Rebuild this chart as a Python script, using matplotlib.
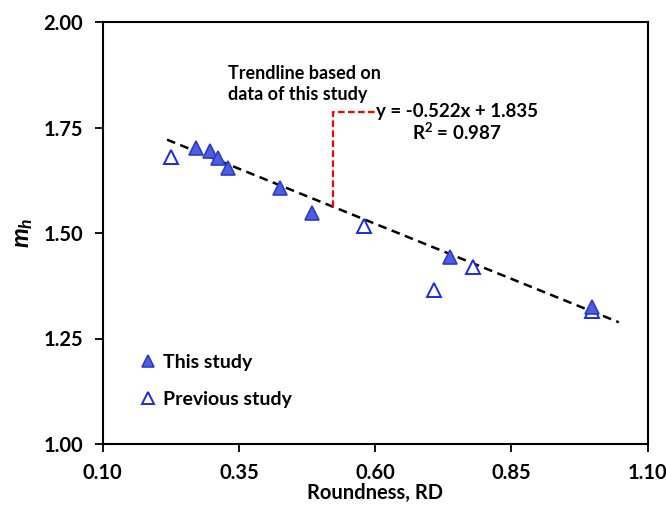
import matplotlib
matplotlib.use('Agg')
import matplotlib.pyplot as plt
import numpy as np

plt.rcParams['font.family'] = ['Lato', 'DejaVu Sans']
plt.rcParams['font.weight'] = 'bold'
plt.rcParams['axes.labelweight'] = 'bold'
plt.rcParams['mathtext.fontset'] = 'custom'
plt.rcParams['mathtext.it'] = 'Lato:bold:italic'
plt.rcParams['mathtext.rm'] = 'Lato:bold'

# roundness vs m_h
rd_this = [0.271, 0.297, 0.312, 0.329, 0.425, 0.484, 0.738, 0.998]
mh_this = [1.702, 1.695, 1.677, 1.655, 1.607, 1.548, 1.442, 1.324]
rd_prev = [0.225, 0.579, 0.708, 0.779, 0.998]
mh_prev = [1.679, 1.517, 1.365, 1.420, 1.314]

slope, intercept = -0.522, 1.835
r2 = 0.987
fit_x = np.array([0.218, 1.047])

xticks = [0.10, 0.35, 0.60, 0.85, 1.10]
yticks = [1.00, 1.25, 1.50, 1.75, 2.00]

fig = plt.figure(figsize=(6.66, 5.08), dpi=100)
ax = fig.add_axes([102.7 / 666, 1 - 444 / 508, 545 / 666, 422 / 508])

ax.plot(fit_x, slope * fit_x + intercept, color='black', ls=(0, (3.5, 2.2)),
        lw=1.8, zorder=1)
ax.plot(rd_this, mh_this, ls='none', marker='^', ms=10, mfc='#4f5fdc',
        mec='#2b3bd0', mew=1.2, label='This study', zorder=3)
ax.plot(rd_prev, mh_prev, ls='none', marker='^', ms=10, mfc='white',
        mec='#1a2be6', mew=1.4, label='Previous study', zorder=2)

# red leader from the trendline to the equation
xa = 0.523
ya = slope * xa + intercept
ax.plot([xa, xa, 0.601], [ya, 1.787, 1.787], color='red', ls=(0, (3, 1.5)),
        lw=1.6, zorder=2)
ax.text(0.601, 1.787, 'y = -0.522x + 1.835 ', fontsize=13.5, va='center',
        ha='left')
ax.text(0.749, 1.740, 'R$^2$ = %.3f' % r2, fontsize=13.5, va='center',
        ha='center')
ax.text(0.33, 1.853, 'Trendline based on\ndata of this study', fontsize=13,
        va='center', ha='left', linespacing=1.25)

ax.set_xlim(0.10, 1.10)
ax.set_ylim(1.00, 2.00)
ax.set_xticks(xticks)
ax.set_yticks(yticks)
ax.set_xticklabels(['%.2f' % v for v in xticks])
ax.set_yticklabels(['%.2f' % v for v in yticks])
ax.tick_params(direction='out', length=6, width=1.3, labelsize=14.5, pad=8)
for s in ax.spines.values():
    s.set_linewidth(1.5)

ax.set_xlabel('Roundness, RD', fontsize=14.5, labelpad=0)
ax.set_ylabel('$m_h$', fontsize=18, labelpad=6)

leg = ax.legend(loc='lower left', bbox_to_anchor=(0.035, 0.045), frameon=False,
                fontsize=14, markerscale=0.8, handlelength=0.9,
                handletextpad=0.3, labelspacing=1.0, borderaxespad=0.5)

fig.savefig('out.png', dpi=100)
